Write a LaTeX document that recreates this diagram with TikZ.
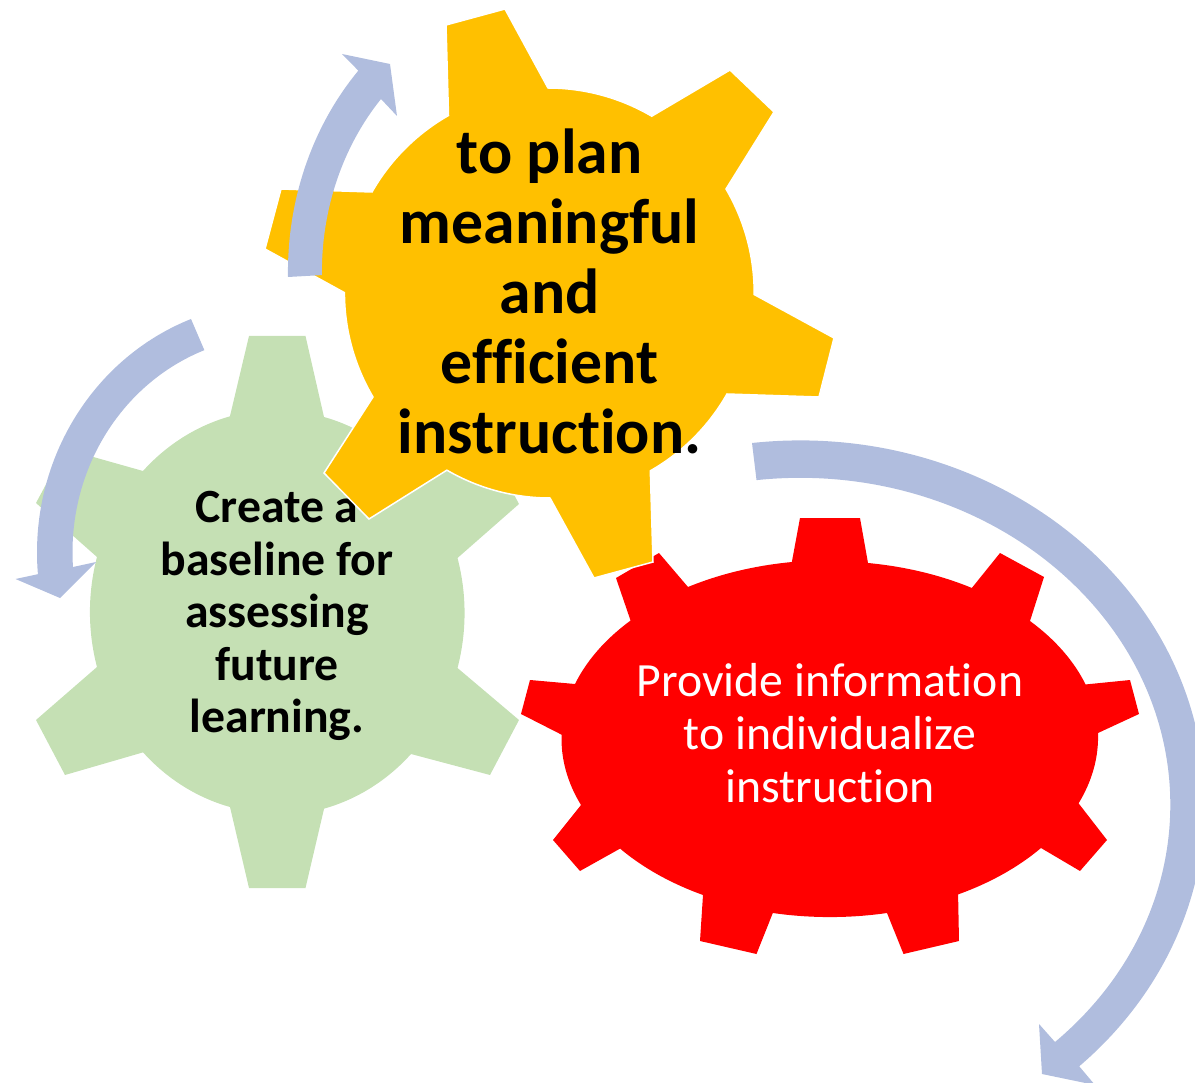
\documentclass[tikz,border=0pt]{standalone}
\usepackage{fontspec}
\setmainfont[RawFeature=-liga]{Carlito}
\definecolor{bandblue}{HTML}{B0BDDE}
\definecolor{gearorange}{HTML}{FFC000}
\definecolor{geargreen}{HTML}{C5E0B4}
\definecolor{gearred}{HTML}{FF0000}
\tikzset{
  band/.style={fill=bandblue,draw=none},
  labelbig/.style={align=center,font=\fontsize{63.7}{70}\bfseries\selectfont,text=black,inner sep=0pt},
  labelmid/.style={align=center,font=\fontsize{47.7}{52.6}\bfseries\selectfont,text=black,inner sep=0pt},
  labelred/.style={align=center,font=\fontsize{47.7}{53}\selectfont,text=white,inner sep=0pt},
  ra/.style={x radius=268pt,y radius=177pt},
  rb/.style={x radius=187pt,y radius=202pt},
  rc/.style={x radius=205pt,y radius=205pt}
}
\begin{document}
\begin{tikzpicture}[x=1pt,y=1pt]
\useasboundingbox (0,0) rectangle (1195,-1083);
\clip (0,0) rectangle (1195,-1083);
% red gear
\fill[gearred] (800,-518) -- (860,-518) -- (868,-563)
  arc[start angle=81.9,end angle=58.1,ra] -- (1000,-553) -- (1044,-577) -- (1030,-621)
  arc[start angle=42,end angle=18.1,ra] -- (1130,-680) -- (1139,-714) -- (1098,-733)
  arc[start angle=1.3,end angle=-22,ra] -- (1107,-840) -- (1080,-871) -- (1041,-848)
  arc[start angle=-38,end angle=-61.4,ra] -- (959,-941) -- (903.5,-954) -- (887,-913)
  arc[start angle=-77.7,end angle=-102.3,ra] -- (756.5,-954) -- (700,-941) -- (703,-895)
  arc[start angle=-118.6,end angle=-142,ra] -- (580,-871) -- (553,-840) -- (581,-805)
  arc[start angle=-158,end angle=-181.3,ra] -- (521,-714) -- (530,-680) -- (575,-684)
  arc[start angle=-198.1,end angle=-222,ra] -- (616,-578) -- (659,-553) -- (688,-587)
  arc[start angle=-238.1,end angle=-261.9,ra] -- cycle;
\node[labelred] (redtext) at (830,-733) {Provide information\\to individualize\\instruction};
% green gear
\fill[geargreen] (249,-336) -- (305.5,-336) -- (324,-417)
  arc[start angle=75.4,end angle=44.2,rb] -- (490,-449) -- (519,-504) -- (457.5,-558)
  arc[start angle=15.8,end angle=-15.8,rb] -- (519,-720) -- (490,-775) -- (411,-754)
  arc[start angle=-44.2,end angle=-75.4,rb] -- (305.5,-888) -- (249,-888) -- (230,-807)
  arc[start angle=-104.6,end angle=-135.8,rb] -- (65,-775) -- (36,-720) -- (97,-667)
  arc[start angle=-164.2,end angle=-195.8,rb] -- (36,-503) -- (65,-449) -- (143,-471)
  arc[start angle=135.8,end angle=104.6,rb] -- cycle;
\node[labelmid] (greentext) at (277,-616) {Create a\\baseline for\\assessing\\future\\learning.};
% orange gear
\filldraw[fill=gearorange,draw=white,line width=1.5pt,line join=miter] (446,-25) -- (505,-9) -- (548,-88)
  arc[start angle=90,end angle=59.6,rc] -- (730,-70) -- (774,-112) -- (726,-189)
  arc[start angle=30.4,end angle=-0.5,rc] -- (834,-338) -- (819,-397) -- (727,-394)
  arc[start angle=-29.6,end angle=-60.3,rc] -- (653,-562) -- (594,-578) -- (550,-498)
  arc[start angle=-90,end angle=-120.2,rc] -- (369,-519) -- (324,-473) -- (373,-397)
  arc[start angle=-149.4,end angle=-180,rc] -- (265,-249) -- (281,-189) -- (372,-192)
  arc[start angle=150.3,end angle=119.7,rc] -- cycle;
\node[labelbig] (orangetext) at (549.5,-291) {to plan\\meaningful\\and\\efficient\\instruction.};
% arrows
\fill[band] (752,-443) arc[start angle=96.8,end angle=-46.4,x radius=405pt,y radius=363pt]
  -- (1095,-1085) -- (1042,-1074) -- (1039,-1024) -- (1055,-1042)
  arc[start angle=-46.5,end angle=96.8,x radius=370pt,y radius=327pt] -- cycle;
\fill[band] (191,-319) arc[start angle=111,end angle=185,x radius=240pt,y radius=250pt]
  -- (15.5,-579) -- (60,-598) -- (96,-562) -- (73,-567)
  arc[start angle=184,end angle=110.9,x radius=205pt,y radius=216pt] -- cycle;
\fill[band] (288,-277) arc[start angle=181,end angle=137,x radius=262pt,y radius=295pt]
  -- (342,-54) -- (390,-64) -- (397,-116) -- (381,-99)
  arc[start angle=137.7,end angle=180.7,x radius=227pt,y radius=257pt] -- cycle;
\end{tikzpicture}
\end{document}
